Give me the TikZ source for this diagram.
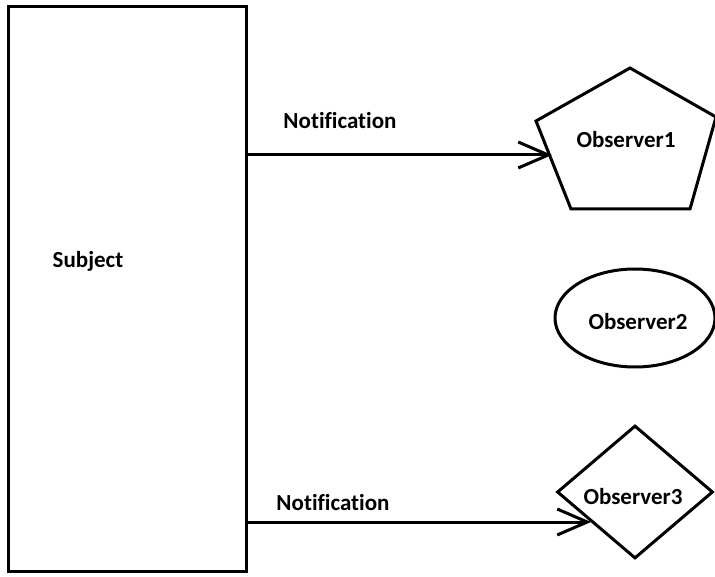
\documentclass[tikz,border=0pt]{standalone}
\usepackage{fontspec}
\setmainfont{Carlito}[Ligatures=NoCommon]
\usepackage{tikz}
\usetikzlibrary{arrows.meta,positioning,calc,shapes.geometric}

\begin{document}
\begin{tikzpicture}[x=1pt, y=-1pt, line width=3pt,
  lbl/.style={font=\fontsize{23}{26}\selectfont\bfseries, inner sep=0pt},
  subj/.style={draw, rectangle, minimum width=238pt, minimum height=564pt, inner sep=0pt},
  obs/.style={draw, inner sep=0pt},
  nt/.style={-{Straight Barb[length=30pt, width=26pt, line width=3pt]}}]
  \useasboundingbox (0,0) rectangle (715,577);
  %--- subject ---
  \node[subj] (sub) at (127,289) {};
  \node[lbl] (subtxt) at (88,261) {Subject};
  %--- observers ---
  \coordinate (p1) at (630,68);
  \coordinate (p2) at (716,117);
  \coordinate (p3) at (690,209);
  \coordinate (p4) at (571,209);
  \coordinate (p5) at (536,121);
  \draw[line join=miter] (p1) -- (p2) -- (p3) -- (p4) -- (p5) -- cycle;
  \node[lbl] (obs1) at (626,140) {Observer1};
  \node[obs, ellipse, minimum width=160pt, minimum height=98pt] (obs2) at (635,318) {};
  \node[lbl] at (638,322) {Observer2};
  \node[obs, diamond, minimum width=156pt, minimum height=133pt] (obs3) at (635,492) {};
  \node[lbl] at (633,497) {Observer3};
  %--- notifications ---
  \coordinate (t1) at (552,155);
  \coordinate (t3) at (591,522);
  \draw[nt] (sub.east |- t1) -- (t1);
  \draw[nt] (sub.east |- t3) -- (t3);
  \node[lbl] (n1) at (340,121) {Notification};
  \node[lbl] (n3) at (333,503) {Notification};
\end{tikzpicture}
\end{document}
